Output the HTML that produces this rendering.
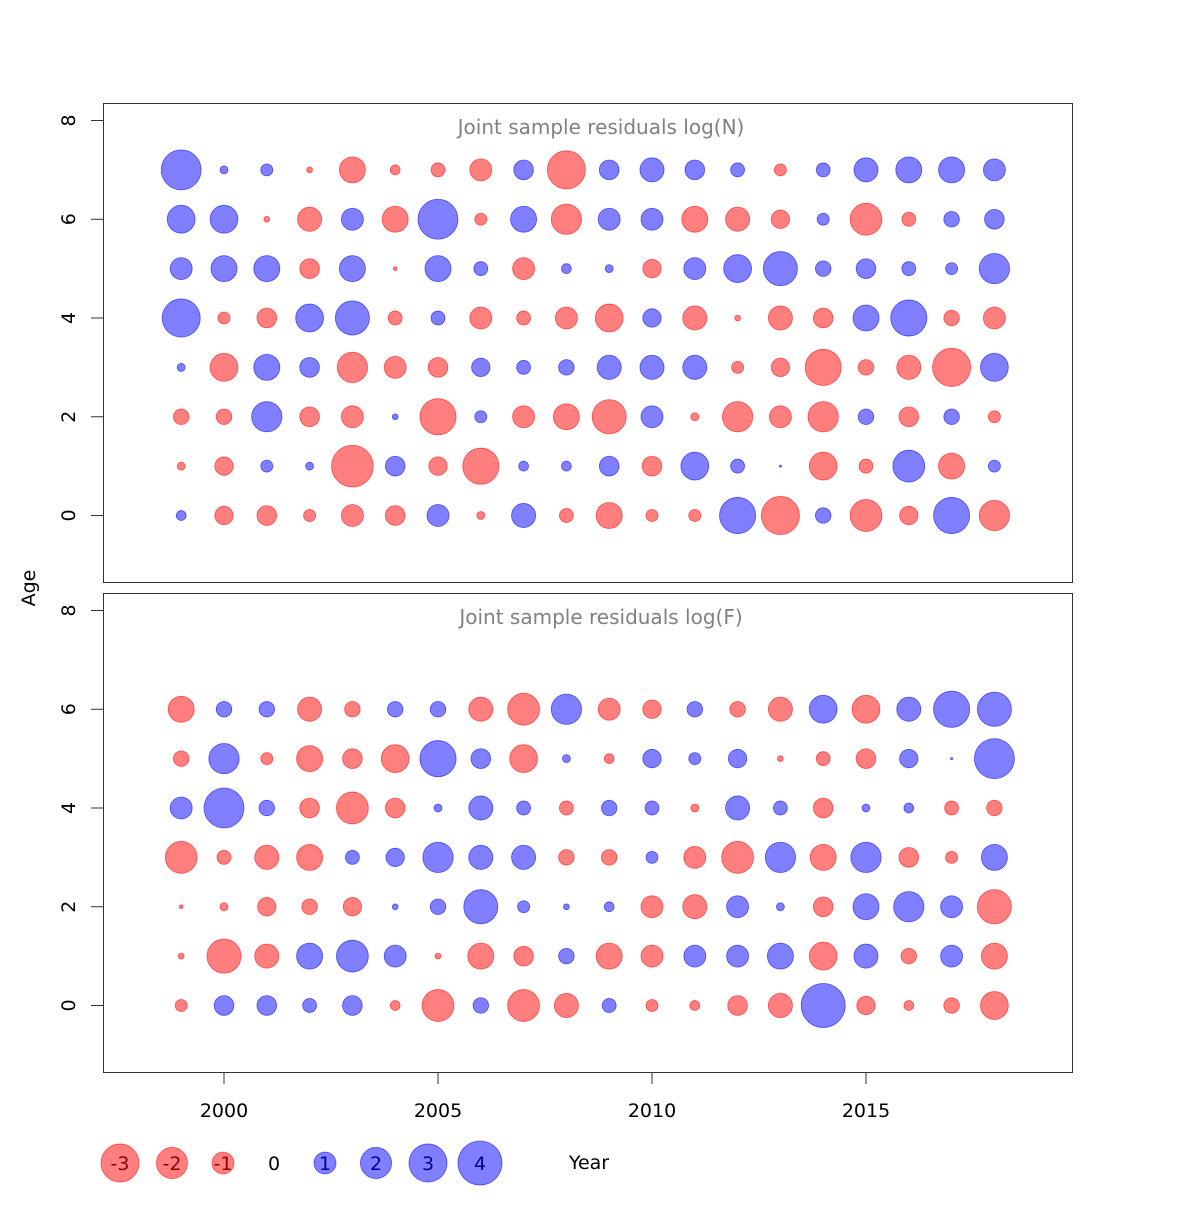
<!DOCTYPE html>
<html><head><meta charset="utf-8"><style>
body{margin:0;background:#fff;}
svg text{font-family:"DejaVu Sans","Liberation Sans",sans-serif;}
</style></head><body>
<svg id="chart" width="1200" height="1200" viewBox="0 0 1200 1200" xmlns="http://www.w3.org/2000/svg">
<rect width="1200" height="1200" fill="#fff"/>
<g id="g"></g>
</svg>
<script>
const years = [1999,2000,2001,2002,2003,2004,2005,2006,2007,2008,2009,2010,2011,2012,2013,2014,2015,2016,2017,2018];
const agesN = [7,6,5,4,3,2,1,0];
const agesF = [6,5,4,3,2,1,0];
const residN = [
 [3.3,0.13,0.3,-0.07,-1.4,-0.2,-0.4,-1,0.8,-3,0.8,1.2,0.8,0.4,-0.3,0.4,1.2,1.4,1.4,1],
 [1.6,1.6,-0.07,-1.2,1,-1.4,3.3,-0.3,1.4,-1.9,1,1,-1.4,-1.2,-0.7,0.3,-2.1,-0.4,0.5,0.8],
 [1,1.4,1.4,-0.8,1.4,-0.03,1.4,0.4,-1,0.2,0.13,-0.7,1,1.6,2.4,0.5,0.8,0.4,0.3,1.9],
 [3,-0.3,-0.8,1.6,2.4,-0.4,0.4,-1,-0.4,-1,-1.6,0.7,-1.2,-0.07,-1.2,-0.8,1.4,2.7,-0.5,-1],
 [0.13,-1.6,1.4,0.8,-1.9,-1,-0.8,0.7,0.4,0.5,1.2,1.2,1.2,-0.3,-0.7,-2.7,-0.5,-1.2,-3,1.6],
 [-0.5,-0.5,1.9,-0.8,-1,0.07,-2.7,0.3,-1,-1.4,-2.4,1,-0.13,-1.9,-1,-1.9,0.5,-0.8,0.5,-0.3],
 [-0.13,-0.7,0.3,0.13,-3.6,0.8,-0.7,-2.7,0.2,0.2,0.8,-0.8,1.6,0.4,0.01,-1.6,-0.4,2.1,-1.4,0.3],
 [0.2,-0.7,-0.8,-0.3,-1,-0.8,1,-0.13,1.2,-0.4,-1.4,-0.3,-0.3,2.7,-3,0.5,-2.1,-0.7,2.7,-1.9]
];
const residF = [
 [-1.4,0.5,0.5,-1.2,-0.5,0.5,0.5,-1.2,-2.1,1.9,-1,-0.7,0.5,-0.5,-1.2,1.6,-1.6,1.2,2.7,2.4],
 [-0.5,1.9,-0.3,-1.4,-0.8,-1.6,2.7,0.8,-1.6,0.13,-0.2,0.7,0.3,0.7,-0.07,-0.4,-0.8,0.7,0.01,3.3],
 [1,3.3,0.5,-0.8,-2.1,-0.8,0.13,1.2,0.4,-0.4,0.5,0.4,-0.13,1.2,0.4,-0.8,0.13,0.2,-0.4,-0.5],
 [-2.1,-0.4,-1.2,-1.4,0.4,0.7,1.9,1.2,1.2,-0.5,-0.5,0.3,-1,-2.1,1.9,-1.4,1.9,-0.8,-0.3,1.4],
 [-0.03,-0.13,-0.7,-0.5,-0.7,0.07,0.5,2.4,0.3,0.07,0.2,-1,-1.2,1,0.13,-0.8,1.4,1.9,1,-2.4],
 [-0.07,-2.4,-1.2,1.4,2.1,1,-0.07,-1.4,-0.8,0.5,-1.4,-1,1,1,1.4,-1.6,1.2,-0.5,1,-1.4],
 [-0.3,0.8,0.8,0.4,0.8,-0.2,-2.1,0.5,-2.1,-1.2,0.4,-0.3,-0.2,-0.8,-1.2,4,-0.7,-0.2,-0.5,-1.6]
];
const xTicks = [2000,2005,2010,2015];
const yTicks = [0,2,4,6,8];
const legendVals = [-3,-2,-1,0,1,2,3,4];

const NS="http://www.w3.org/2000/svg";
const g=document.getElementById('g');
function el(t,a,txt){const e=document.createElementNS(NS,t);for(const k in a)e.setAttribute(k,a[k]);if(txt!==undefined)e.textContent=txt;g.appendChild(e);return e;}
const xS=y=>224+(y-2000)*42.8;
const yN=a=>515.5-a*49.375;
const yF=a=>1005.5-a*49.375;
const rS=v=>11*Math.sqrt(Math.abs(v));
const fillOf=v=>v<0?'rgba(255,0,0,0.5)':'rgba(0,0,255,0.5)';
const strokeOf=v=>v<0?'rgba(255,0,0,0.6)':'rgba(0,0,255,0.6)';

let p=el('rect',{x:103.5,y:103.5,width:969,height:479,fill:'none',stroke:'#333','stroke-width':1});


p=el('rect',{x:103.5,y:593.5,width:969,height:479,fill:'none',stroke:'#333','stroke-width':1});



let t=el('text',{x:601,y:134,'font-size':20,fill:'#808080','text-anchor':'middle'},'Joint sample residuals log(N)');


t=el('text',{x:601,y:624,'font-size':20,fill:'#808080','text-anchor':'middle'},'Joint sample residuals log(F)');



[yN,yF].forEach((f,pi)=>{
 yTicks.forEach(v=>{
  const y=f(v);
  const l=el('line',{x1:91,x2:103,y1:y,y2:y,stroke:'#333'});
  
  
  const tx=el('text',{x:75,y:y,'font-size':19,fill:'#000','text-anchor':'middle',transform:`rotate(-90 75 ${y})`},String(v));
  
  
 });
});
xTicks.forEach(v=>{
 const x=xS(v);
 const l=el('line',{x1:x,x2:x,y1:1072,y2:1084,stroke:'#333'});
 
 
 const tx=el('text',{x:x,y:1117,'font-size':19,fill:'#000','text-anchor':'middle'},String(v));
 
 
});
t=el('text',{x:35,y:588,'font-size':19,fill:'#000','text-anchor':'middle',transform:'rotate(-90 35 588)'},'Age');


t=el('text',{x:589,y:1169,'font-size':19,fill:'#000','text-anchor':'middle'},'Year');



function drawPanel(ages,res,yf,name){
 ages.forEach((a,i)=>{
  years.forEach((yr,j)=>{
   const v=res[i][j];
   const c=el('circle',{cx:xS(yr),cy:yf(a),r:rS(v),fill:fillOf(v),stroke:strokeOf(v),'stroke-width':0.8});
   
   
  });
 });
}
drawPanel(agesN,residN,yN,'logN');
drawPanel(agesF,residF,yF,'logF');

const legX=[120,172,223,274,325,376,428,480];
legendVals.forEach((v,i)=>{
 if(v!==0){
  const c=el('circle',{cx:legX[i],cy:1163,r:rS(v),fill:fillOf(v),stroke:strokeOf(v),'stroke-width':0.8});
  
  
 }
 const tx=el('text',{x:legX[i],y:1170,'font-size':19,fill:v<0?'#8b0000':(v>0?'#00008b':'#000'),'text-anchor':'middle'},String(v));
 
 
});
</script>
</body></html>
